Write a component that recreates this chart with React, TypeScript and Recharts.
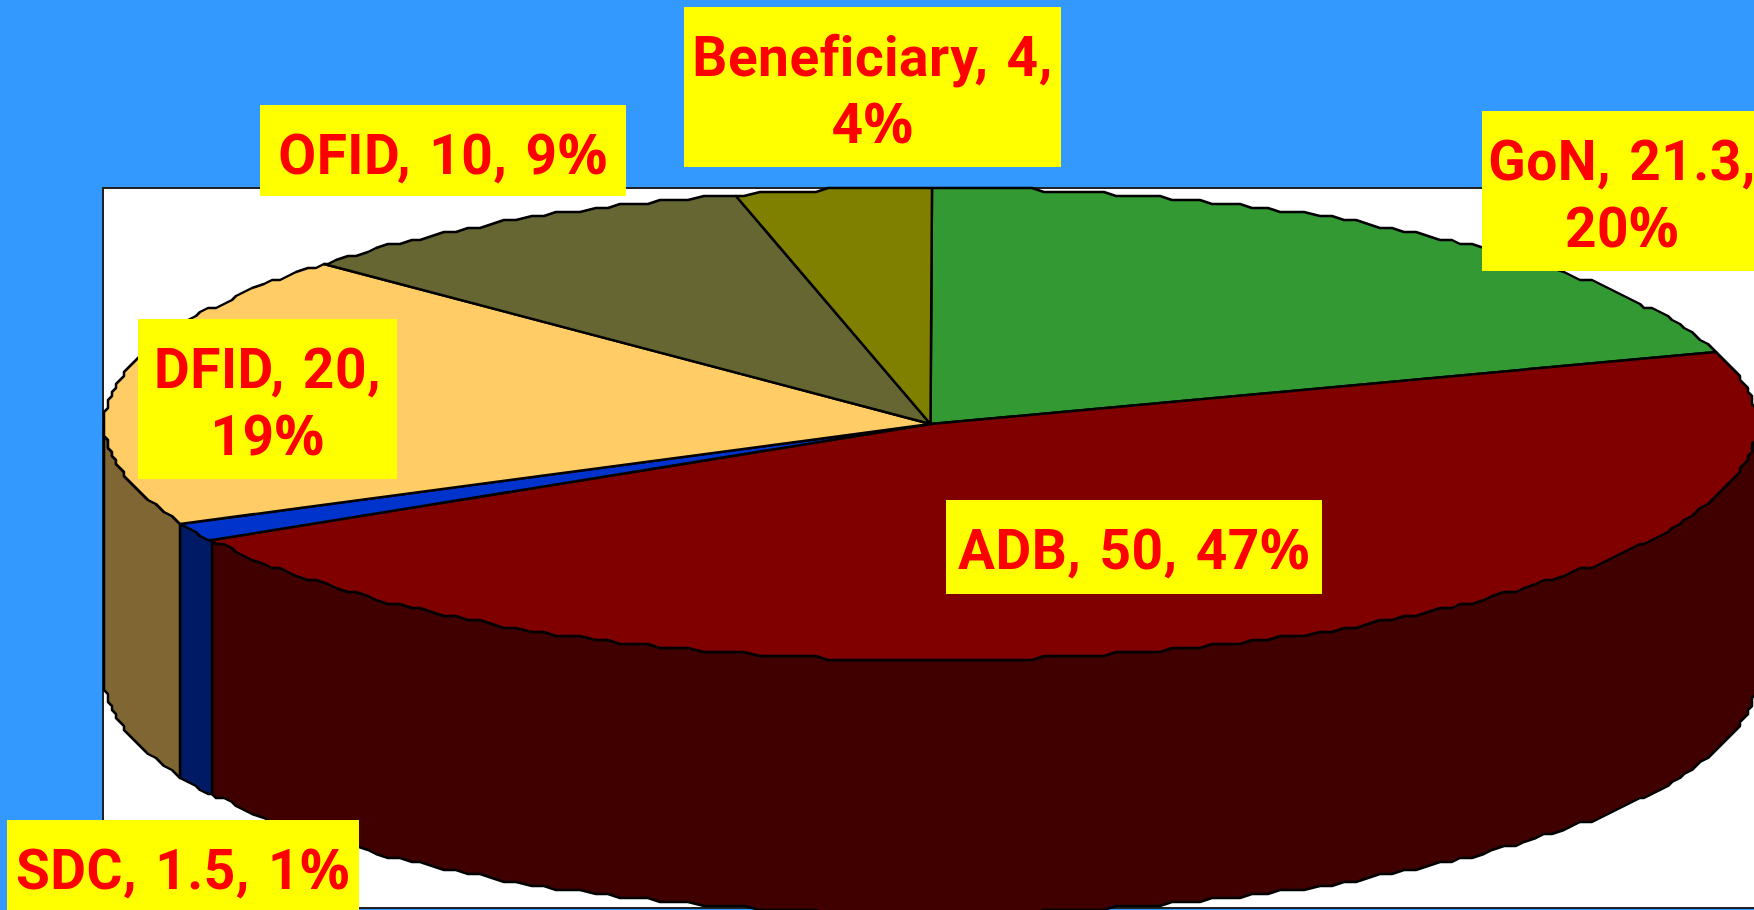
import React from 'react';
import { PieChart, Pie, Cell } from 'recharts';

const names = ['GoN', 'ADB', 'SDC', 'DFID', 'OFID', 'Beneficiary'];
const amounts = [21.3, 50, 1.5, 20, 10, 4];
const colors = ['#339933', '#800000', '#0033CC', '#FFCC66', '#666633', '#808000'];
const wallColors = ['#1A4D1A', '#400000', '#001A66', '#806633', '#33331A', '#404000'];
const twoLineLabels = ['GoN', 'DFID', 'Beneficiary'];
const labelBoxes: Record<string, number[]> = {
  GoN: [1482, 111, 290, 160],
  ADB: [946, 500, 376, 94],
  SDC: [7, 820, 352, 95],
  DFID: [138, 319, 259, 160],
  OFID: [260, 105, 366, 91],
  Beneficiary: [684, 7, 377, 160],
};

const W = 1754;
const H = 910;
const CX = 930.5;
const CY = 424;
const RX = 826;
const RATIO = 236 / 826;
const DEPTH = 254;
const GRID = 4;

const data = names.map((name, i) => ({ name, value: amounts[i] }));

const q = (v: number) => Math.round(v / GRID) * GRID;
const edge = (a: number, cx: number, cy: number, rx: number, dy = 0): [number, number] => {
  const r = (a * Math.PI) / 180;
  return [q(cx + rx * Math.cos(r)), q(cy - rx * RATIO * Math.sin(r)) + dy];
};
// walk an arc from angle a to angle b (a > b) through shared sample angles
const arcPts = (a: number, b: number, cx: number, cy: number, rx: number, dy = 0) => {
  const pts: [number, number][] = [edge(a, cx, cy, rx, dy)];
  const step = 1;
  let t = Math.floor(a / step) * step;
  if (t === a) t -= step;
  for (; t > b; t -= step) pts.push(edge(t, cx, cy, rx, dy));
  pts.push(edge(b, cx, cy, rx, dy));
  return pts;
};
const toD = (pts: [number, number][]) => pts.map((p, i) => `${i ? 'L' : 'M'}${p[0]},${p[1]}`).join('');

const Slice3D = (props: any) => {
  const { cx, cy, outerRadius, startAngle, endAngle, fill, index } = props;
  const wallFrom = Math.min(startAngle, 0);
  const wallTo = Math.max(endAngle, -180);
  let wall = null;
  if (wallFrom > wallTo) {
    const top = arcPts(wallFrom, wallTo, cx, cy, outerRadius);
    const bottom = arcPts(wallFrom, wallTo, cx, cy, outerRadius, DEPTH).reverse();
    wall = (
      <path d={`${toD(top)}${toD(bottom).replace('M', 'L')}Z`} fill={wallColors[index]} stroke="#000" strokeWidth={2.5} strokeLinejoin="round" />
    );
  }
  const arc = arcPts(startAngle, endAngle, cx, cy, outerRadius);
  return (
    <g>
      {wall}
      <path d={`M${cx},${cy}${toD(arc).replace('M', 'L')}Z`} fill={fill} stroke="#000" strokeWidth={2.5} strokeLinejoin="round" />
    </g>
  );
};

const SliceLabel = (props: any) => {
  const { name, value, percent } = props;
  const box = labelBoxes[name];
  if (!box) return null;
  const [x, y, w, h] = box;
  const pct = `${Math.round(percent * 100)}`;
  const twoLines = twoLineLabels.includes(name);
  const head = twoLines ? `${name}, ${value},` : `${name}, ${value}, ${pct}`;
  const mid = name === 'GoN' ? x + 140 : x + w / 2;
  const first = y + 69;
  const wide = <tspan fontFamily="'Noto Sans', sans-serif">%</tspan>;
  return (
    <g>
      <rect x={x} y={y} width={w} height={h} fill="#FFFF00" />
      <text fill="#FF0000" fontFamily="Roboto, sans-serif" fontWeight={700} fontSize={55} textAnchor="middle" letterSpacing={0.5} wordSpacing={4}>
        <tspan x={mid} y={first}>{head}{twoLines ? null : wide}</tspan>
        {twoLines ? <tspan x={mid} y={first + 67}>{pct}{wide}</tspan> : null}
      </text>
    </g>
  );
};

export default function App() {
  return (
    <div style={{ position: 'absolute', left: 0, top: 0, width: W, height: H, background: '#3399FF', overflow: 'hidden' }}>
      <div style={{ position: 'absolute', left: 102, top: 187, width: W, height: H - 188, background: '#fff', border: '2px solid #222', boxSizing: 'border-box' }} />
      <div style={{ position: 'absolute', left: 0, top: 0 }}>
        <PieChart width={W} height={H} margin={{ top: 0, right: 0, bottom: 0, left: 0 }}>
          <Pie
            data={data}
            dataKey="value"
            nameKey="name"
            cx={CX}
            cy={CY}
            outerRadius={RX}
            startAngle={90}
            endAngle={-270}
            paddingAngle={0}
            shape={Slice3D}
            label={SliceLabel}
            labelLine={false}
            isAnimationActive={false}
          >
            {names.map((n, i) => (
              <Cell key={n} fill={colors[i]} />
            ))}
          </Pie>
        </PieChart>
      </div>
    </div>
  );
}
